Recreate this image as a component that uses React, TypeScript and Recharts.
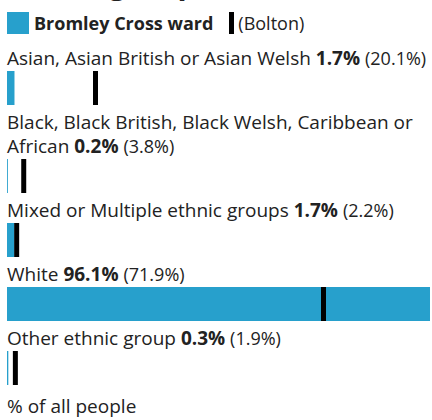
import React from "react";
import { BarChart, Bar, XAxis, YAxis, ReferenceLine } from "recharts";

const title = "Ethnic group";
const wardName = "Bromley Cross ward";
const compareName = "(Bolton)";
const footer = "% of all people";

const categories = [
  "Asian, Asian British or Asian Welsh",
  "Black, Black British, Black Welsh, Caribbean or African",
  "Mixed or Multiple ethnic groups",
  "White",
  "Other ethnic group",
];
const wardValues = [1.7, 0.2, 1.7, 96.1, 0.3];
const boltonValues = [20.1, 3.8, 2.2, 71.9, 1.9];

const BLUE = "#27A0CC";
const TEXT = "#222222";
const FONT = "'Open Sans', sans-serif";
const CHART_W = 423;
const BAR_H = 34;

const maxVal = Math.max(...wardValues, ...boltonValues);

function Row({ i }: { i: number }) {
  const data = [{ name: categories[i], ward: wardValues[i], bolton: boltonValues[i] }];
  return (
    <div>
      <div style={{ lineHeight: "24px", fontSize: 19, width: 425 }}>
        {categories[i]} <b>{wardValues[i].toFixed(1)}%</b>{" "}
        <span style={{ fontSize: 18 }}>({boltonValues[i].toFixed(1)}%)</span>
      </div>
      <div style={{ marginTop: 1, marginBottom: 5, height: BAR_H }}>
        <BarChart
          width={CHART_W}
          height={BAR_H}
          data={data}
          layout="vertical"
          margin={{ top: 0, right: 0, bottom: 0, left: 0 }}
          barCategoryGap={0}
        >
          <XAxis type="number" hide domain={[0, maxVal]} />
          <YAxis type="category" dataKey="name" hide />
          <Bar dataKey="ward" fill={BLUE} isAnimationActive={false} />
          <ReferenceLine x={boltonValues[i]} stroke="#000" strokeWidth={5} />
        </BarChart>
      </div>
    </div>
  );
}

export default function App() {
  return (
    <div
      style={{
        position: "absolute",
        left: 0,
        top: 0,
        width: 432,
        height: 420,
        overflow: "hidden",
        background: "#fff",
        fontFamily: FONT,
        color: TEXT,
      }}
    >
      <div
        style={{
          position: "absolute",
          left: 7,
          top: -38,
          fontSize: 30,
          fontWeight: 700,
          lineHeight: "normal",
          whiteSpace: "nowrap",
        }}
      >
        {title}
      </div>
      <div
        style={{
          position: "absolute",
          left: 7,
          top: 11,
          height: 24,
          display: "flex",
          alignItems: "center",
          fontSize: 18,
          lineHeight: "24px",
          whiteSpace: "nowrap",
        }}
      >
        <span style={{ width: 22, height: 22, background: BLUE, display: "inline-block" }} />
        <b style={{ marginLeft: 5 }}>{wardName}</b>
        <span style={{ width: 5, height: 22, background: "#000", display: "inline-block", marginLeft: 16 }} />
        <span style={{ marginLeft: 4 }}>{compareName}</span>
      </div>
      <div style={{ position: "absolute", left: 7, top: 46 }}>
        {categories.map((_, i) => (
          <Row key={i} i={i} />
        ))}
      </div>
      <div style={{ position: "absolute", left: 7, top: 394, fontSize: 19, lineHeight: "24px" }}>
        {footer}
      </div>
    </div>
  );
}
